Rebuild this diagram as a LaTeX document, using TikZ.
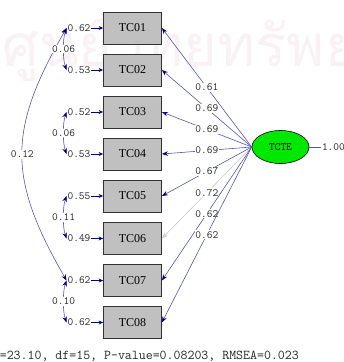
\documentclass[tikz,border=0pt]{standalone}
\usepackage{fontspec}
\setmainfont{Liberation Serif}
\newfontfamily\thaif[Script=Thai]{Loma}
\usetikzlibrary{arrows.meta,shapes.geometric}
\definecolor{navy}{RGB}{0,0,128}
\definecolor{lnblue}{RGB}{85,85,175}
\definecolor{boxgray}{RGB}{192,192,192}
\definecolor{boxline}{RGB}{50,50,50}
\definecolor{lvgreen}{RGB}{0,232,0}
\definecolor{wm}{RGB}{250,241,245}
\definecolor{lgray}{RGB}{200,200,200}
\begin{document}
\begin{tikzpicture}[x=1pt,y=-1pt,
  obs/.style={draw=boxline, fill=boxgray, line width=0.8pt, minimum width=58pt, minimum height=32pt, inner sep=0pt, font=\rmfamily\fontsize{12}{12}\selectfont},
  lat/.style={ellipse, draw=black, fill=lvgreen, line width=0.6pt, minimum width=57pt, minimum height=33pt, inner sep=0pt, font=\ttfamily\fontsize{11}{11}\selectfont},
  num/.style={font=\ttfamily\fontsize{11.1}{11.1}\selectfont, inner sep=0.8pt, text=black!85},
  lbl/.style={num, fill=white},
  load/.style={draw=lnblue, line width=0.6pt, -{Stealth[length=6pt,width=4.5pt,color=navy]}},
  loadg/.style={draw=lgray, line width=0.6pt, -{Stealth[length=6pt,width=4.5pt,color=lgray]}},
  err/.style={draw=navy, line width=0.9pt, -{Stealth[length=4.5pt,width=4pt,color=navy]}},
  cov/.style={draw=lnblue, line width=0.6pt, {Stealth[length=6pt,width=4.5pt,color=navy]}-{Stealth[length=6pt,width=4.5pt,color=navy]}},
  wmark/.style={text=wm, font=\thaif\fontsize{58}{58}\selectfont, inner sep=0pt, anchor=base west}
]
\useasboundingbox (0,0) rectangle (344,362);
% watermark
\node[wmark] (wmk) at (2,66) {ศูนย์วิทยทรัพยากร};
% observed variables
\node[obs] (b1) at (132.5,28) {TC01};
\node[obs] (b2) at (132.5,70) {TC02};
\node[obs] (b3) at (132.5,112) {TC03};
\node[obs] (b4) at (132.5,154) {TC04};
\node[obs] (b5) at (132.5,196) {TC05};
\node[obs] (b6) at (132.5,238.5) {TC06};
\node[obs] (b7) at (132.5,280.5) {TC07};
\node[obs] (b8) at (132.5,322.5) {TC08};
% latent
\node[lat] (t) at (280.5,147) {TCTE};
\node[num, anchor=west] (v) at (321,147) {1.00};
\draw[draw=lnblue, line width=0.6pt] (t.east) -- (v.west);
% error variances
\node[num] (e1) at (79,28) {0.62};
\node[num] (e2) at (79,70) {0.53};
\node[num] (e3) at (79,112) {0.52};
\node[num] (e4) at (79,154) {0.53};
\node[num] (e5) at (79,196) {0.55};
\node[num] (e6) at (79,238.5) {0.49};
\node[num] (e7) at (79,280.5) {0.62};
\node[num] (e8) at (79,322.5) {0.62};
\foreach \i in {1,...,8} {\draw[err] (e\i.east) -- (b\i.west);}
% covariances
\draw[cov] (e1.west) to[out=240,in=120,looseness=1.2] node[lbl, pos=0.5] {0.12} (e7.west);
\draw[cov] (e1.west) to[out=250,in=110,looseness=0.7] node[lbl, pos=0.5] {0.06} (e2.west);
\draw[cov] (e3.west) to[out=250,in=110,looseness=0.7] node[lbl, pos=0.5] {0.06} (e4.west);
\draw[cov] (e5.west) to[out=250,in=110,looseness=0.7] node[lbl, pos=0.5] {0.11} (e6.west);
\draw[cov] (e7.west) to[out=250,in=110,looseness=0.7] node[lbl, pos=0.5] {0.10} (e8.west);
% loadings
\draw[load] (t.west) -- node[lbl, pos=0.5] {0.61} (b1.east);
\draw[load] (t.west) -- node[lbl, pos=0.5] {0.69} (b2.east);
\draw[load] (t.west) -- node[lbl, pos=0.5] {0.69} (b3.east);
\draw[load] (t.west) -- node[lbl, pos=0.5] {0.69} (b4.east);
\draw[load] (t.west) -- node[lbl, pos=0.5] {0.67} (b5.east);
\draw[loadg] (t.west) -- node[lbl, pos=0.5] {0.72} (b6.east);
\draw[load] (t.west) -- node[lbl, pos=0.5] {0.62} (b7.east);
\draw[load] (t.west) -- node[lbl, pos=0.5] {0.62} (b8.east);
% fit statistics
\node[font=\ttfamily\fontsize{13.5}{13.5}\selectfont, text=black!85, inner sep=0pt, anchor=east] (fit) at (299,357) {Chi-Square=23.10, df=15, P-value=0.08203, RMSEA=0.023};
\end{tikzpicture}
\end{document}
